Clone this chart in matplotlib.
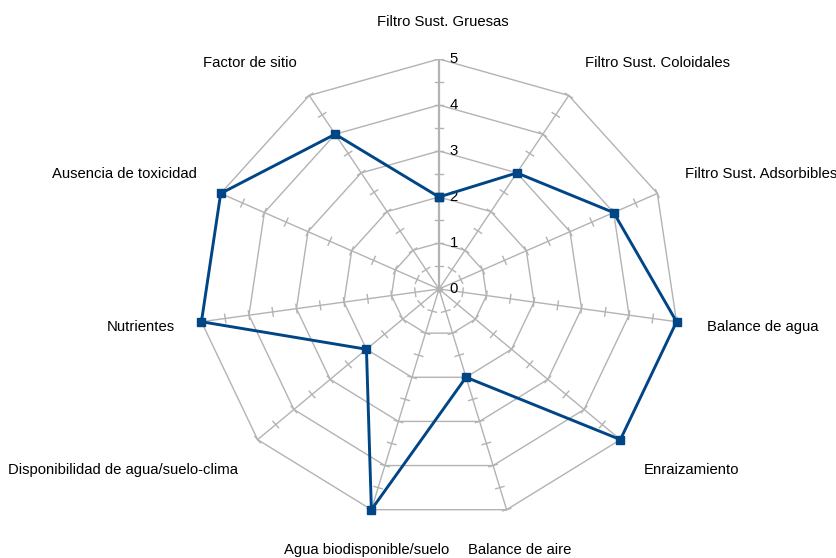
import numpy as np
import matplotlib
matplotlib.use("Agg")
import matplotlib.pyplot as plt

categories = [
    "Filtro Sust. Gruesas",
    "Filtro Sust. Coloidales",
    "Filtro Sust. Adsorbibles",
    "Balance de agua",
    "Enraizamiento",
    "Balance de aire",
    "Agua biodisponible/suelo",
    "Disponibilidad de agua/suelo-clima",
    "Nutrientes",
    "Ausencia de toxicidad",
    "Factor de sitio",
]
values = [2, 3, 4, 5, 5, 2, 5, 2, 5, 5, 4]
r_ticks = [0, 1, 2, 3, 4, 5]
r_max = 5

plt.rcParams["font.family"] = ["Liberation Sans", "DejaVu Sans"]
fs = 10.7
grid_col = "#b3b3b3"
line_col = "#004586"

fig = plt.figure(figsize=(8.37, 5.58), dpi=100)
ax = fig.add_axes([199 / 837, 39 / 558, 480 / 837, 460 / 558])
ax.set_xlim(-r_max, r_max)
ax.set_ylim(-r_max, r_max)
ax.axis("off")

n = len(categories)
ang = np.arange(n) * 2 * np.pi / n
sx, cy = np.sin(ang), np.cos(ang)

# polygon rings
for r in r_ticks[1:]:
    px = np.append(r * sx, r * sx[0])
    py = np.append(r * cy, r * cy[0])
    ax.plot(px, py, color=grid_col, lw=1.0, zorder=1)

# spokes with tick marks every 0.5
tick_len = 0.09
for i in range(n):
    lw = 1.6 if i == 0 else 1.0
    ax.plot([0, r_max * sx[i]], [0, r_max * cy[i]], color=grid_col, lw=lw, zorder=1)
    for t in np.arange(0.5, r_max + 0.01, 0.5):
        x0, y0 = t * sx[i], t * cy[i]
        nx, ny = cy[i], -sx[i]
        ax.plot([x0 - tick_len * nx, x0 + tick_len * nx],
                [y0 - tick_len * ny * 1.04, y0 + tick_len * ny * 1.04],
                color=grid_col, lw=1.0, zorder=1)

ax.plot([0], [0], marker="o", ms=4, color=grid_col, zorder=1)

# radial tick labels
for r in r_ticks:
    ax.text(0.22, r, str(r), ha="left", va="center", fontsize=fs, color="black")

# category labels, anchored just outside the outer ring
r_lab = 5.65
for i, lab in enumerate(categories):
    s, c = sx[i], cy[i]
    if abs(s) < 0.3:
        ha, dx = "center", 3.0
    elif s > 0:
        ha, dx = "left", -0.5
    else:
        ha, dx = "right", 3.0
    if c > 0.3:
        va, dy = "bottom", 0.0
    elif c < -0.3:
        va, dy = "top", -3.0
    else:
        va, dy = "center", -0.5
    ax.annotate(lab, xy=(r_lab * s, r_lab * c), xytext=(dx, dy),
                textcoords="offset points", ha=ha, va=va, fontsize=fs,
                color="black", annotation_clip=False)

# data series
vals = np.array(values, dtype=float)
xs = np.append(vals * sx, vals[0] * sx[0])
ys = np.append(vals * cy, vals[0] * cy[0])
ax.plot(xs, ys, color=line_col, lw=2.1, marker="s", ms=5.5,
        markerfacecolor=line_col, markeredgecolor=line_col, zorder=3,
        clip_on=False)

fig.savefig("out.png", dpi=100)
